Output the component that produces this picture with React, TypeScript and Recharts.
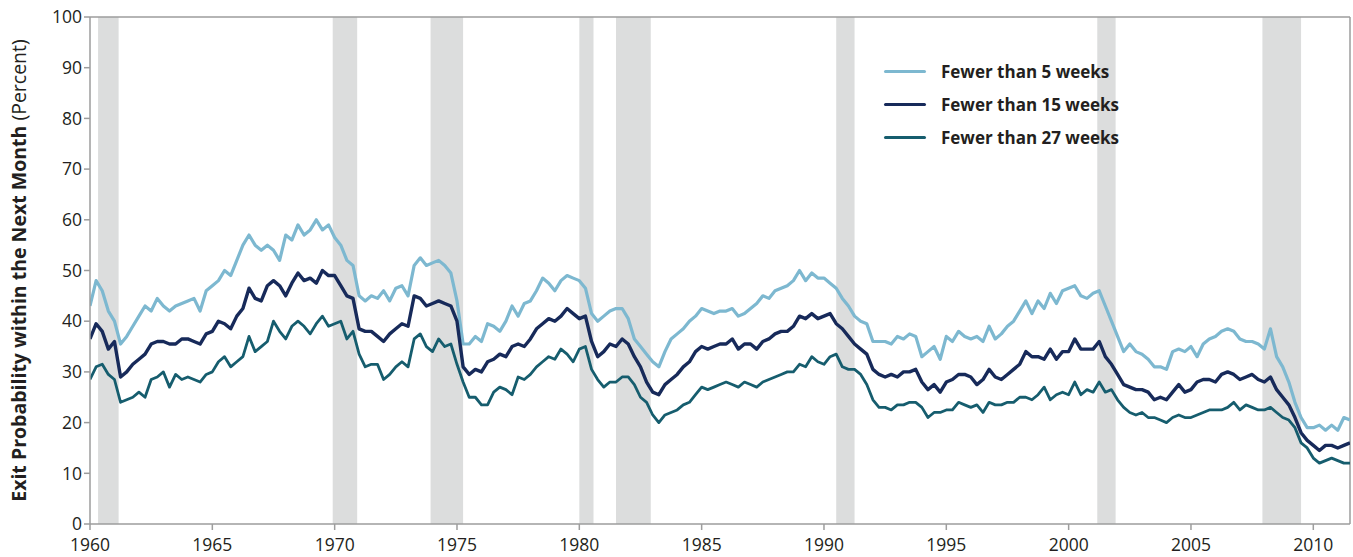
import React from "react"
import {
  LineChart,
  Line,
  XAxis,
  YAxis,
  ReferenceArea,
  ReferenceLine,
} from "recharts"

// quarterly readings, 1960 Q1 onward (last value is mid-2011)
const START_YEAR = 1960
const END_YEAR = 2011.5

const under5 = [
  43, 48, 46, 42, 40, 35.5, 37, 39, 41, 43, 42, 44.5, 43, 42, 43, 43.5,
  44, 44.5, 42, 46, 47, 48, 50, 49, 52, 55, 57, 55, 54, 55, 54, 52,
  57, 56, 59, 57, 58, 60, 58, 59, 56.5, 55, 52, 51, 45, 44, 45, 44.5,
  46, 44, 46.5, 47, 45, 51, 52.5, 51, 51.5, 52, 51, 49.5, 44, 35.5, 35.5, 37,
  36, 39.5, 39, 38, 40, 43, 41, 43.5, 44, 46, 48.5, 47.5, 46, 48, 49, 48.5,
  48, 46.5, 41.5, 40, 41, 42, 42.5, 42.5, 40.5, 36.5, 35, 33.5, 32, 31, 34, 36.5,
  37.5, 38.5, 40, 41, 42.5, 42, 41.5, 42, 42, 42.5, 41, 41.5, 42.5, 43.5, 45, 44.5,
  46, 46.5, 47, 48, 50, 48, 49.5, 48.5, 48.5, 47.5, 46.5, 44.5, 43, 41, 40, 39.5,
  36, 36, 36, 35.5, 37, 36.5, 37.5, 37, 33, 34, 35, 32.5, 37, 36, 38, 37,
  36.5, 37, 36, 39, 36.5, 37.5, 39, 40, 42, 44, 41.5, 44, 42.5, 45.5, 43.5, 46,
  46.5, 47, 45, 44.5, 45.5, 46, 43, 40, 37, 34, 35.5, 34, 33.5, 32.5, 31, 31,
  30.5, 34, 34.5, 34, 35, 33, 35.5, 36.5, 37, 38, 38.5, 38, 36.5, 36, 36, 35.5,
  34.5, 38.5, 33, 31, 28, 24, 21, 19, 19, 19.5, 18.5, 19.5, 18.5, 21, 20.5,
]

const under15 = [
  36.5, 39.5, 38, 34.5, 36, 29, 30, 31.5, 32.5, 33.5, 35.5, 36, 36, 35.5, 35.5, 36.5,
  36.5, 36, 35.5, 37.5, 38, 40, 39.5, 38.5, 41, 42.5, 46.5, 44.5, 44, 47, 48, 47,
  45, 47.5, 49.5, 48, 48.5, 47.5, 50, 49, 49, 47, 45, 44.5, 38.5, 38, 38, 37,
  36, 37.5, 38.5, 39.5, 39, 45, 44.5, 43, 43.5, 44, 43.5, 43, 40, 31, 29.5, 30.5,
  30, 32, 32.5, 33.5, 33, 35, 35.5, 35, 36.5, 38.5, 39.5, 40.5, 40, 41, 42.5, 41.5,
  40.5, 41, 36, 33, 34, 35.5, 35, 36.5, 35.5, 33, 31, 28, 26, 25.5, 27.5, 28.5,
  29.5, 31, 32, 34, 35, 34.5, 35, 35.5, 35.5, 36.5, 34.5, 35.5, 35.5, 34.5, 36, 36.5,
  37.5, 38, 38, 39, 41, 40.5, 41.5, 40.5, 41, 41.5, 39.5, 38.5, 37, 35.5, 34.5, 33.5,
  30.5, 29.5, 29, 29.5, 29, 30, 30, 30.5, 28, 26.5, 27.5, 26, 28, 28.5, 29.5, 29.5,
  29, 27.5, 28.5, 30.5, 29, 28.5, 29.5, 30.5, 31.5, 34, 33, 33, 32.5, 34.5, 32.5, 34,
  34, 36.5, 34.5, 34.5, 34.5, 36, 33, 31.5, 29.5, 27.5, 27, 26.5, 26.5, 26, 24.5, 25,
  24.5, 26, 27.5, 26, 26.5, 28, 28.5, 28.5, 28, 29.5, 30, 29.5, 28.5, 29, 29.5, 28.5,
  28, 29, 26.5, 25, 23.5, 21, 18, 16.5, 15.5, 14.5, 15.5, 15.5, 15, 15.5, 16,
]

const under27 = [
  28.5, 31, 31.5, 29.5, 28.5, 24, 24.5, 25, 26, 25, 28.5, 29, 30, 27, 29.5, 28.5,
  29, 28.5, 28, 29.5, 30, 32, 33, 31, 32, 33, 37, 34, 35, 36, 40, 38,
  36.5, 39, 40, 39, 37.5, 39.5, 41, 39, 39.5, 40, 36.5, 38, 33.5, 31, 31.5, 31.5,
  28.5, 29.5, 31, 32, 31, 36.5, 37.5, 35, 34, 36.5, 35, 35.5, 31.5, 28, 25, 25,
  23.5, 23.5, 26, 27, 26.5, 25.5, 29, 28.5, 29.5, 31, 32, 33, 32.5, 34.5, 33.5, 32,
  34.5, 35, 30.5, 28.5, 27, 28, 28, 29, 29, 27.5, 25, 24, 21.5, 20, 21.5, 22,
  22.5, 23.5, 24, 25.5, 27, 26.5, 27, 27.5, 28, 27.5, 27, 28, 27.5, 27, 28, 28.5,
  29, 29.5, 30, 30, 31.5, 31, 33, 32, 31.5, 33, 33.5, 31, 30.5, 30.5, 29.5, 27.5,
  24.5, 23, 23, 22.5, 23.5, 23.5, 24, 24, 23, 21, 22, 22, 22.5, 22.5, 24, 23.5,
  23, 23.5, 22, 24, 23.5, 23.5, 24, 24, 25, 25, 24.5, 25.5, 27, 24.5, 25.5, 26,
  25.5, 28, 25.5, 26.5, 26, 28, 26, 26.5, 24.5, 23, 22, 21.5, 22, 21, 21, 20.5,
  20, 21, 21.5, 21, 21, 21.5, 22, 22.5, 22.5, 22.5, 23, 24, 22.5, 23.5, 23, 22.5,
  22.5, 23, 22, 21, 20.5, 19, 16, 15, 13, 12, 12.5, 13, 12.5, 12, 12,
]

// NBER recessions [start, end]
const recessions = [
  [1960.33, 1961.17],
  [1969.92, 1970.92],
  [1973.92, 1975.25],
  [1980.0, 1980.58],
  [1981.5, 1982.92],
  [1990.5, 1991.25],
  [2001.17, 2001.92],
  [2007.92, 2009.5],
]

const xTicks = [1960, 1965, 1970, 1975, 1980, 1985, 1990, 1995, 2000, 2005, 2010]
const yTicks = [0, 10, 20, 30, 40, 50, 60, 70, 80, 90, 100]

const seriesInfo = [
  { key: "a", name: "Fewer than 5 weeks", color: "#7db8d0", width: 3.2 },
  { key: "b", name: "Fewer than 15 weeks", color: "#172a5a", width: 3.4 },
  { key: "c", name: "Fewer than 27 weeks", color: "#165d6e", width: 2.8 },
]

const data = under5.map((v, i) => ({
  date: i === under5.length - 1 ? END_YEAR : START_YEAR + i / 4,
  a: v,
  b: under15[i],
  c: under27[i],
}))

const FONT = "'Open Sans', 'Noto Sans', sans-serif"
const AXIS = "#9d9d9d"
const TEXT = "#231f20"

function YLabel({ viewBox }: any) {
  const cy = viewBox.y + viewBox.height / 2
  return (
    <text
      x={0}
      y={0}
      transform={`translate(18, ${cy}) rotate(-90)`}
      textAnchor="middle"
      dominantBaseline="central"
      fontFamily={FONT}
      fontSize={19.5}
      fill={TEXT}
    >
      <tspan fontWeight="bold">Exit Probability within the Next Month</tspan>
      <tspan> (Percent)</tspan>
    </text>
  )
}

export default function App() {
  return (
    // pinned to the page corner so chart coords match the page
    <div
      style={{
        position: "absolute",
        left: 0,
        top: 0,
        width: 1353,
        height: 557,
        background: "#fff",
        overflow: "hidden",
      }}
    >
      <LineChart
        width={1353}
        height={557}
        data={data}
        margin={{ top: 17, right: 3, bottom: 1, left: 0 }}
      >
        {recessions.map(([s, e], i) => (
          <ReferenceArea
            key={`rec-${i}`}
            x1={s}
            x2={e}
            fill="#dcdddd"
            fillOpacity={1}
            stroke="none"
          />
        ))}
        <ReferenceLine y={100} stroke={AXIS} strokeWidth={1.5} />
        <ReferenceLine x={END_YEAR} stroke={AXIS} strokeWidth={1.5} />
        <XAxis
          dataKey="date"
          type="number"
          domain={[START_YEAR, END_YEAR]}
          ticks={xTicks}
          allowDataOverflow
          height={32}
          stroke={AXIS}
          strokeWidth={1.5}
          tickSize={6}
          tickMargin={9}
          tick={{ fontSize: 17.5, fill: TEXT, fontFamily: FONT }}
        />
        <YAxis
          type="number"
          domain={[0, 100]}
          ticks={yTicks}
          width={90}
          stroke={AXIS}
          strokeWidth={1.5}
          tickSize={6}
          tick={{ fontSize: 17.5, fill: TEXT, fontFamily: FONT }}
          label={<YLabel />}
        />
        {seriesInfo.map((s) => (
          <Line
            key={s.key}
            type="linear"
            dataKey={s.key}
            name={s.name}
            stroke={s.color}
            strokeWidth={s.width}
            strokeLinejoin="round"
            dot={false}
            isAnimationActive={false}
          />
        ))}
      </LineChart>

      {/* legend, top right inside the plot */}
      <div style={{ position: "absolute", left: 884, top: 55, fontFamily: FONT }}>
        {seriesInfo.map((s) => (
          <div key={s.key} style={{ display: "flex", alignItems: "center", height: 33 }}>
            <div
              style={{
                width: 42,
                height: 3,
                background: s.color,
                marginRight: 15,
                borderRadius: 2,
              }}
            />
            <span style={{ fontSize: 17, fontWeight: 700, color: TEXT }}>{s.name}</span>
          </div>
        ))}
      </div>
    </div>
  )
}
